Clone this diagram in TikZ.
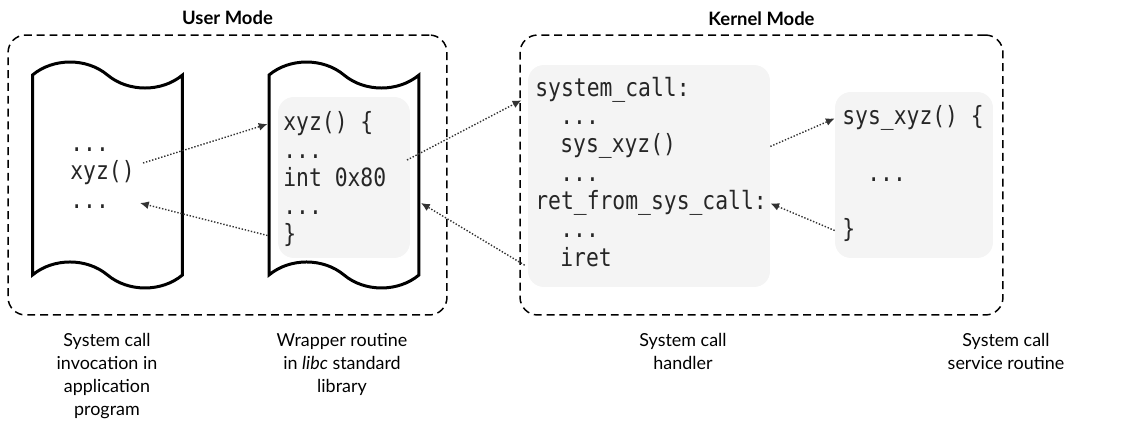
\documentclass[tikz,border=0pt]{standalone}
\usepackage{fontspec}
\setmainfont{Lato}
\newfontfamily\codefont[FakeStretch=0.85]{DejaVu Sans Mono}
\usetikzlibrary{positioning,shapes.symbols,arrows.meta}

\begin{document}
\begin{tikzpicture}[x=0.02cm, y=-0.02cm,
	modebox/.style={draw, line width=0.85pt, dash pattern=on 4.5pt off 2.8pt, rounded corners=10pt, inner sep=0pt},
	pagebox/.style={tape, draw, line width=1.7pt, tape bend top=out and in, tape bend bottom=out and in, tape bend height=0.52cm, minimum width=3cm, minimum height=4.52cm, inner sep=0pt},
	shadebox/.style={fill=gray!9, rounded corners=9pt, inner sep=0pt},
	codeline/.style={anchor=base west, inner sep=0pt, text=black!85, font=\codefont\fontsize{14.3}{16}\selectfont},
	headline/.style={font=\bfseries\fontsize{10.5}{12}\selectfont, inner sep=2pt},
	caption/.style={anchor=north, align=center, inner sep=0pt, font=\fontsize{10.2}{13}\selectfont},
	flow/.style={densely dotted, line width=0.8pt, black!80, -{Latex[length=5pt, width=4.5pt]}}]
	    \useasboundingbox (0,0) rectangle (1142,435);
	    \node[modebox, minimum width=8.78cm, minimum height=5.6cm] (umode) at (227.5,175) {};
	    \node[modebox, minimum width=9.66cm, minimum height=5.6cm] (kmode) at (761.5,175) {};
	    \node[headline, above=3pt of umode] (uhead) {User Mode};
	    \node[headline, above=3pt of kmode] (khead) {Kernel Mode};
	    \node[pagebox] (doca) at (107.5,175) {};
	    \node[pagebox] (docb) at (344,175) {};
	    \node[shadebox, minimum width=2.64cm, minimum height=3.22cm] (wbox) at (344,177.5) {};
	    \node[shadebox, minimum width=4.84cm, minimum height=4.44cm] (hbox) at (649,176) {};
	    \node[shadebox, minimum width=3.16cm, minimum height=3.32cm] (sbox) at (914,175) {};
	    \node[codeline] (adots) at (70,152) {...};
	    \node[codeline] (acall) at (70,180) {xyz()};
	    \node[codeline] (adotsb) at (70,209) {...};
	    \node[codeline] (wentry) at (283,131) {xyz() \{};
	    \node[codeline] (wdots) at (283,159) {...};
	    \node[codeline] (wint) at (283,187) {int 0x80};
	    \node[codeline] (wdotsb) at (283,215) {...};
	    \node[codeline] (wclose) at (283,243) {\}};
	    \node[codeline] (hentry) at (535,97) {system\_call:};
	    \node[codeline] (hdots) at (560,125) {...};
	    \node[codeline] (hcall) at (560,153) {sys\_xyz()};
	    \node[codeline] (hdotsb) at (560,182) {...};
	    \node[codeline] (hret) at (535,210) {ret\_from\_sys\_call:};
	    \node[codeline] (hdotsc) at (560,238) {...};
	    \node[codeline] (hiret) at (560,267) {iret};
	    \node[codeline] (sentry) at (842,125) {sys\_xyz() \{};
	    \node[codeline] (sdots) at (867,182) {...};
	    \node[codeline] (sclose) at (842,238) {\}};
	    \node[caption] (acap) at (107,333) {System call\\invocation in\\application\\program};
	    \node[caption] (wcap) at (342,333) {Wrapper routine\\in \textit{libc} standard\\library};
	    \node[caption] (hcap) at (683,333) {System call\\handler};
	    \node[caption] (scap) at (1006,333) {System call\\service routine};
	    \coordinate (callout) at (143,163);
	    \coordinate (callback) at (140,203);
	    \coordinate (trap) at (407,160);
	    \coordinate (wret) at (421,203);
	    \draw[flow] (callout) -- (docb.west |- wentry);
	    \draw[flow] (docb.west |- wclose) -- (callback);
	    \draw[flow, shorten >=4pt] (trap) -- (hbox.west |- hentry.base);
	    \draw[flow, shorten <=2pt] (hbox.west |- hiret.base) -- (wret);
	    \draw[flow] (hbox.east |- hcall) -- (sbox.west |- sentry);
	    \draw[flow] (sbox.west |- sclose) -- (hbox.east |- hret);
	\end{tikzpicture}
\end{document}
